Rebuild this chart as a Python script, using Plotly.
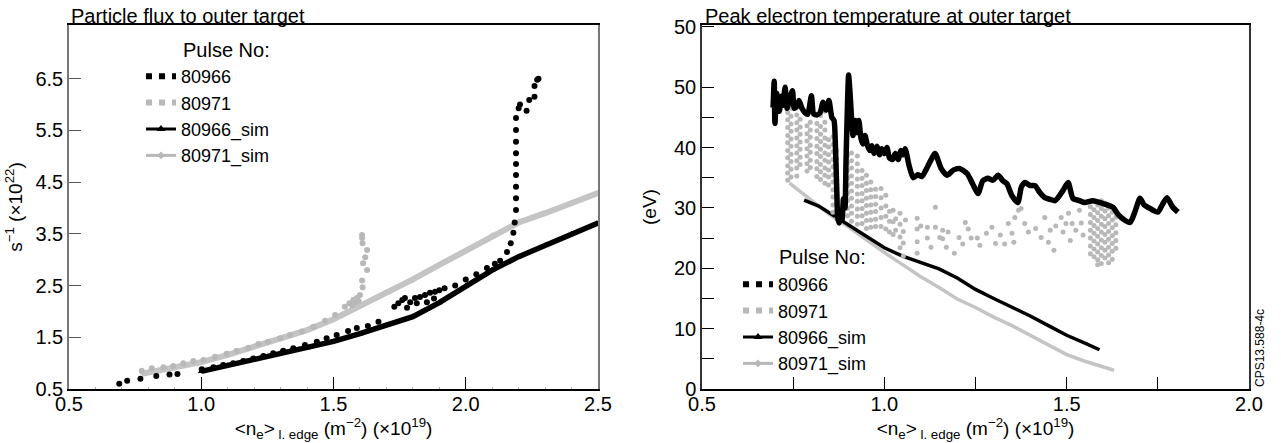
import plotly.graph_objects as go

W, H = 1281, 443
FONT = "Liberation Sans, Arial, sans-serif"
BLACK = "#000000"
GRAY_DOT = "#b8b8b8"
GRAY_LINE = "#c4c4c4"

# ---------------- Left panel: particle flux (x1e22 s^-1) ----------------
flux_966_x = [0.69, 0.72, 0.77, 0.83, 0.88, 0.91,
              1.002, 1.046, 1.083, 1.121, 1.159, 1.197, 1.235, 1.272, 1.31, 1.348,
              1.392, 1.437, 1.474, 1.512, 1.555, 1.588, 1.63, 1.67,
              1.73, 1.745, 1.76, 1.77, 1.79, 1.808, 1.827, 1.846, 1.865, 1.884, 1.9, 1.92,
              1.778, 1.815, 1.853, 1.88,
              1.96, 2.0, 2.04, 2.08, 2.11, 2.13,
              2.156, 2.17, 2.18, 2.185, 2.19, 2.19, 2.19, 2.19, 2.19, 2.19, 2.19, 2.19, 2.19,
              2.2, 2.205, 2.23, 2.24, 2.26, 2.26, 2.27, 2.275]
flux_966_y = [0.60, 0.66, 0.70, 0.75, 0.78, 0.79,
              0.88, 0.92, 0.964, 1.0, 1.04, 1.09, 1.14, 1.19, 1.24, 1.29,
              1.35, 1.415, 1.48, 1.545, 1.62, 1.68, 1.72, 1.80,
              2.09, 2.16, 2.22, 2.26, 2.18, 2.26, 2.28, 2.32, 2.36, 2.38, 2.41, 2.45,
              2.07, 2.16, 2.18, 2.25,
              2.5, 2.62, 2.72, 2.84, 2.92, 2.98,
              3.15, 3.32, 3.52, 3.72, 3.96, 4.19, 4.41, 4.64, 4.85, 5.06, 5.28, 5.51, 5.74,
              5.93, 6.0, 5.88, 6.09, 6.15, 6.36, 6.48, 6.5]

flux_971_x = [0.775, 0.813, 0.857, 0.894, 0.932, 0.97, 1.008, 1.052, 1.096, 1.134, 1.178,
              1.216, 1.253, 1.298, 1.336, 1.38, 1.424, 1.468, 1.506, 1.543, 1.56, 1.575,
              1.588, 1.6, 1.57, 1.585, 1.595,
              1.61, 1.608, 1.627, 1.612, 1.62, 1.627, 1.61, 1.608, 1.608]
flux_971_y = [0.854, 0.90, 0.92, 0.945, 1.0, 1.04, 1.06, 1.125, 1.18, 1.24, 1.30,
              1.37, 1.415, 1.48, 1.545, 1.61, 1.705, 1.82, 1.93, 2.09, 2.16, 2.22,
              2.26, 2.32, 2.12, 2.18, 2.2,
              2.47, 2.6, 2.8, 2.93, 3.05, 3.19, 3.32, 3.42, 3.48]

flux_966sim_x = [1.0, 1.1, 1.2, 1.3, 1.4, 1.5, 1.6, 1.7, 1.8, 1.9, 2.0, 2.1, 2.2, 2.3, 2.4, 2.5]
flux_966sim_y = [0.84, 0.96, 1.08, 1.2, 1.3, 1.42, 1.57, 1.74, 1.9, 2.17, 2.5, 2.8, 3.06, 3.28, 3.5, 3.71]

flux_971sim_x = [0.78, 0.9, 1.0, 1.1, 1.2, 1.3, 1.4, 1.5, 1.6, 1.7, 1.8, 1.9, 2.0, 2.1, 2.2, 2.3, 2.4, 2.5]
flux_971sim_y = [0.80, 0.91, 1.02, 1.16, 1.32, 1.48, 1.64, 1.85, 2.1, 2.37, 2.62, 2.9, 3.18, 3.47, 3.72, 3.9, 4.1, 4.29]

# ---------------- Right panel: peak Te (eV) ----------------
te_966_x = [0.695, 0.698, 0.700, 0.705, 0.712, 0.718, 0.722, 0.728, 0.733, 0.740, 0.748, 0.753,
            0.760, 0.766, 0.774, 0.782, 0.790, 0.800, 0.806, 0.815, 0.824, 0.832, 0.840, 0.848,
            0.856, 0.862, 0.866, 0.868, 0.870, 0.872, 0.876, 0.880, 0.884, 0.888, 0.892, 0.895,
            0.898, 0.902, 0.906, 0.910, 0.914, 0.920, 0.925, 0.930, 0.936, 0.941, 0.947, 0.953,
            0.960, 0.966, 0.972, 0.980, 0.987, 0.993, 1.000, 1.007, 1.014, 1.022, 1.030, 1.038,
            1.045, 1.051, 1.057, 1.068, 1.079, 1.092, 1.103, 1.120, 1.139, 1.156, 1.172, 1.190,
            1.207, 1.227, 1.242, 1.257, 1.270, 1.284, 1.298, 1.312, 1.325, 1.336, 1.350, 1.366,
            1.376, 1.386, 1.400, 1.413, 1.427, 1.440, 1.455, 1.468, 1.480, 1.490, 1.504, 1.517,
            1.535, 1.550, 1.572, 1.600, 1.627, 1.640, 1.652, 1.674, 1.688, 1.701, 1.712, 1.723,
            1.750, 1.762, 1.775, 1.790, 1.805]
te_966_y = [46.6, 51.0, 44.0, 49.0, 46.0, 48.5, 47.0, 50.0, 46.5, 48.0, 49.4, 46.5,
            46.8, 47.8, 46.5, 45.8, 45.5, 48.6, 45.6, 45.4, 45.8, 47.5, 46.2, 47.8,
            45.0, 44.5, 40.0, 36.0, 32.0, 28.5, 27.5, 29.5, 28.0, 31.5, 30.0, 38.0,
            45.0, 52.0, 49.0, 45.0, 42.0, 44.5, 42.5, 44.5, 41.5, 40.6, 42.0, 40.5,
            39.5, 40.3, 39.0, 40.2, 38.8, 39.8, 39.0, 40.0, 38.3, 38.0, 39.0, 38.0,
            39.5, 38.8, 39.8, 37.0, 35.0, 35.5, 35.2, 37.0, 39.0, 36.5, 35.4, 36.3,
            36.5, 35.7, 34.0, 32.4, 34.5, 34.9, 34.6, 35.4, 34.5, 34.0, 32.0, 30.9,
            33.5, 34.2, 33.7, 33.7, 32.5, 31.7, 31.4, 31.2, 32.0, 32.9, 34.2, 31.6,
            31.2, 30.9, 31.2, 30.7, 30.1, 29.0, 28.3, 27.6, 29.5, 31.6, 30.5, 30.1,
            29.3, 30.5, 31.7, 30.2, 29.3]

# 80971 measured points, read column by column (x of column, y values in it)
te_971_col_x = [0.735, 0.744, 0.760, 0.769, 0.788, 0.797, 0.815, 0.825, 0.837, 0.847,
                0.859, 0.869, 0.899, 0.910, 0.926, 0.939, 0.951, 0.963, 0.976, 0.991,
                1.004, 1.014, 1.024, 1.031, 1.043, 1.052, 1.058, 1.090, 1.100, 1.118,
                1.128, 1.140, 1.152, 1.160, 1.170, 1.175, 1.192, 1.205, 1.215, 1.222,
                1.230, 1.238, 1.255, 1.262, 1.280, 1.295, 1.305, 1.318, 1.330, 1.340,
                1.350, 1.355, 1.358, 1.368, 1.375, 1.385, 1.395, 1.415, 1.430, 1.440,
                1.450, 1.455, 1.465, 1.470, 1.485, 1.490, 1.498, 1.505, 1.510, 1.515,
                1.525, 1.535, 1.540, 1.545,
                1.565, 1.575, 1.585, 1.595, 1.605, 1.615, 1.625, 1.635]
te_971_col_y = [
    [45.8, 44.6, 43.3, 42.0, 40.8, 39.5, 38.3, 37.0, 35.8, 34.6],
    [46.5, 45.2, 43.9, 42.7, 41.4, 40.2, 38.9, 37.7, 36.4, 35.1],
    [45.4, 44.1, 42.9, 41.6, 40.3, 39.1, 37.8, 36.6, 35.3],
    [44.7, 43.4, 42.2, 40.9, 39.7, 38.4, 37.2],
    [43.6, 42.3, 41.1, 39.8, 38.6, 37.3, 36.1],
    [44.2, 42.9, 41.7, 40.4, 39.2, 37.9, 36.7],
    [44.0, 42.8, 41.5, 40.2, 39.0, 37.7, 36.5, 35.2],
    [45.3, 43.5, 42.2, 41.0, 39.7, 38.5, 37.2, 36.0, 34.7],
    [46.0, 44.2, 42.9, 41.6, 40.4, 39.1, 37.9, 36.6, 35.4, 34.1],
    [41.3, 40.1, 38.8, 37.6, 36.3, 35.1, 33.8],
    [41.8, 40.5, 39.3, 38.0, 36.8, 35.5, 34.3, 33.0, 31.8, 30.5, 29.3],
    [39.5, 38.2, 37.0, 35.7, 34.5, 33.2, 32.0, 30.7, 29.5, 28.2],
    [38.7, 37.4, 36.2, 34.9, 33.7, 32.4, 31.2, 29.9, 28.7],
    [39.1, 37.8, 36.6, 35.3, 34.1, 32.8, 31.6, 30.3, 29.1, 27.8],
    [38.6, 37.3, 36.1, 34.8, 33.6, 32.3, 31.1, 29.8, 28.6, 27.3],
    [36.2, 34.9, 33.7, 32.4, 31.2, 29.9, 28.7, 27.4],
    [35.4, 34.1, 32.9, 31.6, 30.4, 29.1, 27.9, 26.6],
    [34.3, 33.0, 31.8, 30.5, 29.3, 28.0, 26.8],
    [33.1, 31.9, 30.6, 29.4, 28.1, 26.9],
    [33.2, 31.7, 30.0, 28.4, 26.9],
    [32.1, 30.3, 28.6, 26.5],
    [29.4, 27.8, 26.0],
    [29.6, 27.7, 25.6],
    [28.2, 26.3],
    [29.1, 27.3, 25.2, 23.4],
    [26.1, 24.2, 22.0],
    [28.0],
    [28.3, 26.5, 24.4, 22.5],
    [27.0],
    [26.8, 25.0],
    [23.5],
    [30.1, 26.8],
    [25.1],
    [26.3, 24.9],
    [23.5],
    [26.0],
    [22.5],
    [25.1],
    [24.0],
    [27.6],
    [26.5],
    [25.0],
    [25.0],
    [23.8],
    [25.8],
    [26.8],
    [24.1],
    [25.5],
    [24.0],
    [27.4],
    [25.8],
    [24.3],
    [28.4],
    [29.6],
    [29.9],
    [27.4],
    [26.0],
    [26.6],
    [25.1],
    [28.4],
    [24.3],
    [26.3],
    [23.0],
    [27.0],
    [28.4],
    [26.0],
    [27.4],
    [29.1],
    [24.6],
    [27.4],
    [26.3],
    [29.6],
    [27.5],
    [25.5],
    [30.2, 28.9, 27.6, 26.3, 25.0, 23.7, 22.4],
    [31.0, 29.7, 28.4, 27.1, 25.8, 24.5, 23.2, 21.9],
    [30.5, 29.2, 27.9, 26.6, 25.3, 24.0, 22.7, 21.4, 20.6],
    [31.2, 29.9, 28.6, 27.3, 26.0, 24.7, 23.4, 22.1, 20.8],
    [30.8, 29.5, 28.2, 26.9, 25.6, 24.3, 23.0, 21.7],
    [30.0, 28.7, 27.4, 26.1, 24.8, 23.5, 22.2, 20.9],
    [29.3, 28.0, 26.7, 25.4, 24.1, 22.8, 21.5],
    [28.5, 27.2, 25.9, 24.6, 23.3],
]

te_966sim_x = [0.78, 0.82, 0.86, 0.9, 0.95, 1.0, 1.05, 1.1, 1.15, 1.2, 1.25, 1.3, 1.35, 1.4,
               1.45, 1.5, 1.55, 1.59]
te_966sim_y = [31.3, 30.3, 28.8, 27.3, 25.3, 23.4, 22.0, 20.9, 19.9, 18.4, 16.5, 15.0, 13.6,
               12.1, 10.5, 8.9, 7.6, 6.5]

te_971sim_x = [0.74, 0.8, 0.85, 0.9, 0.95, 1.0, 1.05, 1.1, 1.15, 1.2, 1.25, 1.3, 1.35, 1.4,
               1.45, 1.5, 1.55, 1.6, 1.63]
te_971sim_y = [34.1, 31.2, 28.9, 26.9, 24.7, 22.6, 20.6, 18.6, 16.8, 14.9, 13.5, 11.9, 10.5,
               8.9, 7.2, 5.7, 4.6, 3.6, 3.1]

# tick labels
left_x_ticks = [0.5, 1.0, 1.5, 2.0, 2.5]
left_x_text = ["0.5", "1.0", "1.5", "2.0", "2.5"]
left_y_ticks = [0.5, 1.5, 2.5, 3.5, 4.5, 5.5, 6.5]
left_y_text = ["0.5", "1.5", "2.5", "3.5", "4.5", "5.5", "6.5"]
right_x_ticks = [0.5, 0.75, 1.0, 1.25, 1.5, 1.75, 2.0]
right_x_text = ["0.5", " ", "1.0", " ", "1.5", " ", "2.0"]
right_y_ticks = [0, 5, 10, 15, 20, 25, 30, 35, 40, 45, 50, 60]
right_y_text = ["0", " ", "10", " ", "20", " ", "30", " ", "40", " ", "50", "50"]

series_names = ["80966", "80971", "80966_sim", "80971_sim"]

# flatten the column readings
te_971_x, te_971_y = [], []
for cx, cys in zip(te_971_col_x, te_971_col_y):
    for cy in cys:
        te_971_x.append(cx)
        te_971_y.append(cy)

fig = go.Figure()

# ---- left panel traces ----
fig.add_trace(go.Scatter(x=flux_971sim_x, y=flux_971sim_y, mode="lines+markers",
                         line=dict(color=GRAY_LINE, width=6), marker=dict(symbol="diamond", size=5, color=GRAY_LINE),
                         showlegend=False, xaxis="x", yaxis="y"))
fig.add_trace(go.Scatter(x=flux_971_x, y=flux_971_y, mode="markers",
                         marker=dict(color=GRAY_DOT, size=6), showlegend=False, xaxis="x", yaxis="y"))
fig.add_trace(go.Scatter(x=flux_966sim_x, y=flux_966sim_y, mode="lines+markers",
                         line=dict(color=BLACK, width=5.5), marker=dict(symbol="triangle-up", size=6, color=BLACK),
                         showlegend=False, xaxis="x", yaxis="y"))
fig.add_trace(go.Scatter(x=flux_966_x, y=flux_966_y, mode="markers",
                         marker=dict(color=BLACK, size=6), showlegend=False, xaxis="x", yaxis="y"))

# ---- right panel traces ----
fig.add_trace(go.Scatter(x=te_971sim_x, y=te_971sim_y, mode="lines",
                         line=dict(color=GRAY_LINE, width=3.5), showlegend=False, xaxis="x2", yaxis="y2"))
fig.add_trace(go.Scatter(x=te_966sim_x, y=te_966sim_y, mode="lines",
                         line=dict(color=BLACK, width=3.5), showlegend=False, xaxis="x2", yaxis="y2"))
fig.add_trace(go.Scatter(x=te_971_x, y=te_971_y, mode="markers",
                         marker=dict(color=GRAY_DOT, size=5), showlegend=False, xaxis="x2", yaxis="y2"))
fig.add_trace(go.Scatter(x=te_966_x, y=te_966_y, mode="lines",
                         line=dict(color=BLACK, width=5.5, shape="spline", smoothing=0.6),
                         showlegend=False, xaxis="x2", yaxis="y2"))

# ---- legend entries (one set per panel) ----
def legend_entries(lg, xa, ya):
    fig.add_trace(go.Scatter(x=[None], y=[None], mode="lines", name=series_names[0],
                             line=dict(color=BLACK, width=6, dash="6px,7px"),
                             legend=lg, xaxis=xa, yaxis=ya))
    fig.add_trace(go.Scatter(x=[None], y=[None], mode="lines", name=series_names[1],
                             line=dict(color=GRAY_DOT, width=6, dash="6px,7px"),
                             legend=lg, xaxis=xa, yaxis=ya))
    fig.add_trace(go.Scatter(x=[None], y=[None], mode="lines+markers", name=series_names[2],
                             line=dict(color=BLACK, width=3),
                             marker=dict(symbol="triangle-up", size=8, color=BLACK),
                             legend=lg, xaxis=xa, yaxis=ya))
    fig.add_trace(go.Scatter(x=[None], y=[None], mode="lines+markers", name=series_names[3],
                             line=dict(color=GRAY_DOT, width=3),
                             marker=dict(symbol="diamond", size=6, color=GRAY_DOT),
                             legend=lg, xaxis=xa, yaxis=ya))

legend_entries("legend", "x", "y")
legend_entries("legend2", "x2", "y2")

# ---- layout ----
xl = [69 / W, 598 / W]
xr = [702 / W, 1249 / W]
yd = [1 - 389 / H, 1 - 25 / H]

tick_font = dict(family=FONT, size=20, color=BLACK)
xtitle = "&lt;n<sub>e</sub>&gt;<sub> l. edge</sub> (m<sup>−2</sup>) (×10<sup>19</sup>)"

fig.update_layout(
    width=W, height=H,
    margin=dict(l=0, r=0, t=0, b=0, autoexpand=False),
    paper_bgcolor="white", plot_bgcolor="white",
    font=dict(family=FONT, size=20, color=BLACK),
    xaxis=dict(domain=xl, range=[0.5, 2.5], tickvals=left_x_ticks, ticktext=left_x_text,
               ticks="inside", ticklen=12, tickwidth=1, tickcolor=BLACK, ticklabelstandoff=-4,
               showline=True, linecolor=BLACK, linewidth=1.5, mirror=True,
               showgrid=False, zeroline=False, tickfont=tick_font, automargin=False,
               minor=dict(ticks="inside", ticklen=2, tickwidth=1, dtick=0.1, tick0=0.5, tickcolor="#aaaaaa", showgrid=False),
               title=dict(text=xtitle, font=dict(family=FONT, size=19), standoff=0),
               anchor="y"),
    yaxis=dict(domain=yd, range=[0.5, 7.54], tickvals=left_y_ticks, ticktext=left_y_text,
               ticks="inside", ticklen=12, tickwidth=1, tickcolor="#555555",
               showline=True, linecolor="#777777", linewidth=1.5, mirror=True,
               showgrid=False, zeroline=False, tickfont=tick_font, automargin=False,
               title=dict(text="s<sup>−1</sup> (×10<sup>22</sup>)", font=dict(family=FONT, size=19), standoff=8),
               anchor="x"),
    xaxis2=dict(domain=xr, range=[0.5, 2.0], tickvals=right_x_ticks, ticktext=right_x_text,
                ticks="inside", ticklen=12, tickwidth=1, tickcolor=BLACK, ticklabelstandoff=-4,
                showline=True, linecolor=BLACK, linewidth=1.5, mirror=True,
                showgrid=False, zeroline=False, tickfont=tick_font, automargin=False,
                title=dict(text=xtitle, font=dict(family=FONT, size=19), standoff=0),
                anchor="y2"),
    yaxis2=dict(domain=yd, range=[0, 60.3], tickvals=right_y_ticks, ticktext=right_y_text,
                ticks="inside", ticklen=12, tickwidth=1, tickcolor=BLACK,
                showline=True, linecolor="#333333", linewidth=1.5, mirror=True,
                showgrid=False, zeroline=False, tickfont=tick_font, automargin=False,
                title=dict(text="(eV)", font=dict(family=FONT, size=19), standoff=12),
                anchor="x2"),
    legend=dict(x=141 / W, y=1 - 58 / H, xanchor="left", yanchor="top",
                bgcolor="rgba(0,0,0,0)", borderwidth=0, font=dict(family=FONT, size=18),
                tracegroupgap=0, itemclick=False),
    legend2=dict(x=738 / W, y=1 - 266 / H, xanchor="left", yanchor="top",
                 bgcolor="rgba(0,0,0,0)", borderwidth=0, font=dict(family=FONT, size=18),
                 tracegroupgap=0, itemclick=False),
    annotations=[
        dict(text="Particle flux to outer target", x=69 / W, y=yd[1], xref="paper", yref="paper",
             xanchor="left", yanchor="bottom", yshift=-4, showarrow=False,
             font=dict(family=FONT, size=20)),
        dict(text="Peak electron temperature at outer target", x=703 / W, y=yd[1], xref="paper", yref="paper",
             xanchor="left", yanchor="bottom", yshift=-4, showarrow=False,
             font=dict(family=FONT, size=20)),
        dict(text="Pulse No:", x=181 / W, y=1 - 50 / H, xref="paper", yref="paper",
             xanchor="left", yanchor="middle", showarrow=False, font=dict(family=FONT, size=20)),
        dict(text="Pulse No:", x=777 / W, y=1 - 257 / H, xref="paper", yref="paper",
             xanchor="left", yanchor="middle", showarrow=False, font=dict(family=FONT, size=20)),
        dict(text="CPS13.588-4c", x=1260 / W, y=1 - 389 / H, xref="paper", yref="paper",
             xanchor="center", yanchor="bottom", textangle=-90, showarrow=False,
             font=dict(family=FONT, size=12)),
    ],
)

fig.write_html("out.html", config={"displayModeBar": False},
               post_script="document.body.style.margin='0';document.body.style.padding='0';")
